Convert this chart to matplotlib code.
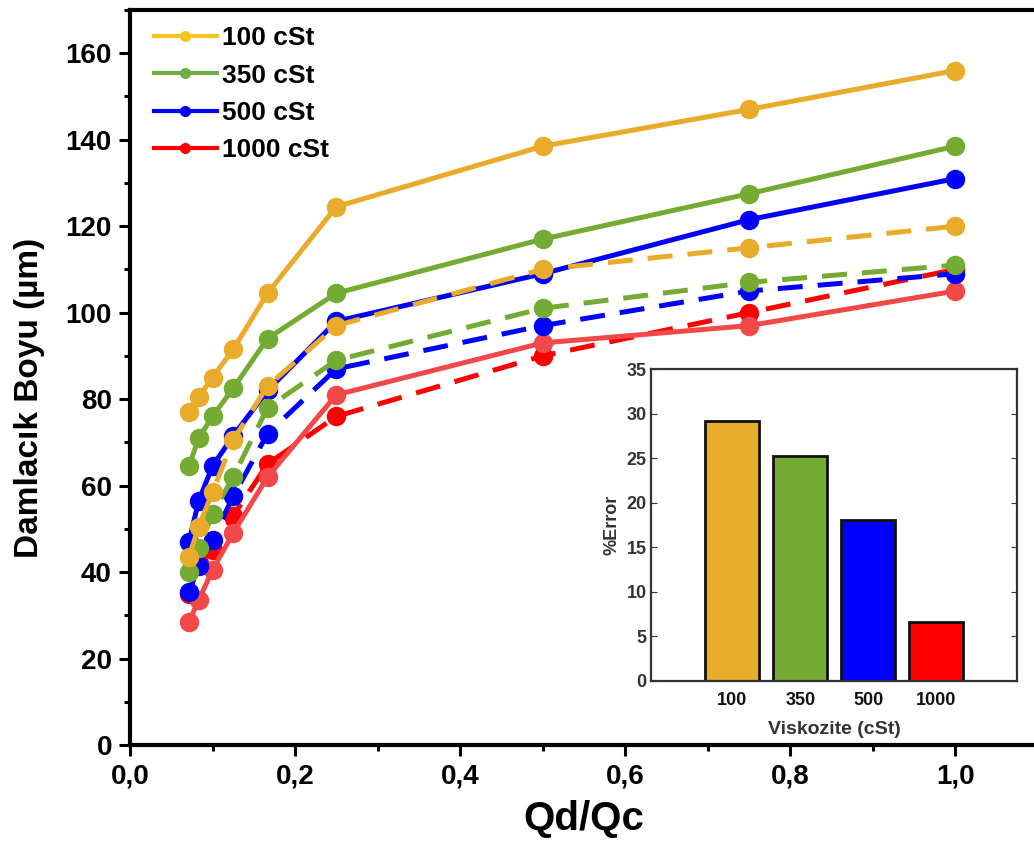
import numpy as np
import matplotlib
matplotlib.use("Agg")
import matplotlib.pyplot as plt
from matplotlib.lines import Line2D
from matplotlib.ticker import MultipleLocator, FuncFormatter

plt.rcParams['font.family'] = ['Liberation Sans', 'DejaVu Sans']
plt.rcParams['font.weight'] = 'bold'

# Qd/Qc orani
qd_qc = [1/14, 1/12, 1/10, 1/8, 1/6, 1/4, 1/2, 3/4, 1.0]

# duz cizgiler (solid)
y100_solid = [77, 80.5, 85, 91.5, 104.5, 124.5, 138.5, 147, 156]
y350_solid = [64.5, 71, 76, 82.5, 94, 104.5, 117, 127.5, 138.5]
y500_solid = [47, 56.5, 64.5, 71.5, 82, 98, 109, 121.5, 131]
y1000_solid = [28.5, 33.5, 40.5, 49, 62, 81, 93, 97, 105]

# kesikli cizgiler (dashed)
y100_dash = [43.5, 50.5, 58.5, 70.5, 83, 97, 110, 115, 120]
y350_dash = [40, 45.5, 53.5, 62, 78, 89, 101, 107, 111]
y500_dash = [35.5, 41.5, 47.5, 57.5, 72, 87, 97, 105, 109]
y1000_dash = [35, 42, 45, 53, 65, 76, 90, 100, 110]

# inset: hata yuzdesi
viskozite = ['100', '350', '500', '1000']
hata = [29.2, 25.2, 18.0, 6.6]

c_or = '#E9AB2A'
c_gr = '#73AB33'
c_bl = '#0000FF'
c_rd = '#F24848'
c_rd2 = '#FF0000'

fig = plt.figure(figsize=(10.34, 8.47), dpi=100)
ax = fig.add_axes([0.1257, 0.1204, 0.878, 0.8678])

lw = 3.6
ms = 13
ax.plot(qd_qc, y100_solid, '-o', color=c_or, lw=lw, ms=ms)
ax.plot(qd_qc, y350_solid, '-o', color=c_gr, lw=lw, ms=ms)
ax.plot(qd_qc, y500_solid, '-o', color=c_bl, lw=lw, ms=ms)
ax.plot(qd_qc, y1000_dash, '--o', color=c_rd2, lw=lw, ms=ms, dashes=(5, 3))
ax.plot(qd_qc, y1000_solid, '-o', color=c_rd, lw=lw, ms=ms)
ax.plot(qd_qc, y500_dash, '--o', color=c_bl, lw=lw, ms=ms, dashes=(5, 3))
ax.plot(qd_qc, y350_dash, '--o', color=c_gr, lw=lw, ms=ms, dashes=(5, 3))
ax.plot(qd_qc, y100_dash, '--o', color=c_or, lw=lw, ms=ms, dashes=(5, 3))

ax.set_xlim(0, 1.1)
ax.set_ylim(0, 170)
ax.xaxis.set_major_locator(MultipleLocator(0.2))
ax.xaxis.set_minor_locator(MultipleLocator(0.1))
ax.yaxis.set_major_locator(MultipleLocator(20))
ax.yaxis.set_minor_locator(MultipleLocator(10))
ax.xaxis.set_major_formatter(FuncFormatter(lambda v, p: f"{v:.1f}".replace('.', ',')))
ax.tick_params(which='major', direction='out', length=8, width=2.2, labelsize=20, pad=5)
ax.tick_params(which='minor', direction='out', length=4, width=2.2)
for lab in ax.get_xticklabels() + ax.get_yticklabels():
    lab.set_fontweight('bold')
for s in ax.spines.values():
    s.set_linewidth(3)

ax.set_xlabel('Qd/Qc', fontsize=29, fontweight='bold', labelpad=8)
ax.set_ylabel('Damlacık Boyu (µm)', fontsize=24, fontweight='bold')
ax.yaxis.set_label_coords(-0.094, 0.472)

handles = [Line2D([], [], color=c, lw=3, marker='o', ms=7)
           for c in ['#F8C520', '#70AD47', '#0000FF', '#FF0000']]
ax.legend(handles, ['100 cSt', '350 cSt', '500 cSt', '1000 cSt'],
          loc='upper left', bbox_to_anchor=(0.0, 1.01), frameon=False,
          prop={'size': 19, 'weight': 'bold'}, handlelength=2.4,
          handletextpad=0.2, labelspacing=0.5)

# inset bar grafigi
ax2 = fig.add_axes([0.630, 0.1963, 0.3536, 0.368])
pos = np.arange(len(viskozite))
ax2.bar(pos, hata, width=0.8, color=[c_or, c_gr, c_bl, '#FF0000'],
        edgecolor='#111111', linewidth=2)
ax2.set_xlim(-1.19, 4.19)
ax2.set_ylim(0, 35)
ax2.set_xticks(pos)
ax2.set_xticklabels(viskozite)
ax2.yaxis.set_major_locator(MultipleLocator(5))
ax2.tick_params(axis='y', direction='in', length=4, right=True, labelsize=13,
                labelcolor='#333333', color='#333333')
ax2.tick_params(axis='x', length=0, labelsize=13, labelcolor='#111111', pad=8)
for lab in ax2.get_xticklabels() + ax2.get_yticklabels():
    lab.set_fontweight('bold')
for s in ax2.spines.values():
    s.set_linewidth(1.6)
    s.set_color('#333333')
ax2.set_xlabel('Viskozite (cSt)', fontsize=14, fontweight='bold', color='#333333', labelpad=9)
ax2.set_ylabel('%Error', fontsize=13, fontweight='bold', color='#333333', labelpad=4)

fig.savefig('out.png', dpi=100)
